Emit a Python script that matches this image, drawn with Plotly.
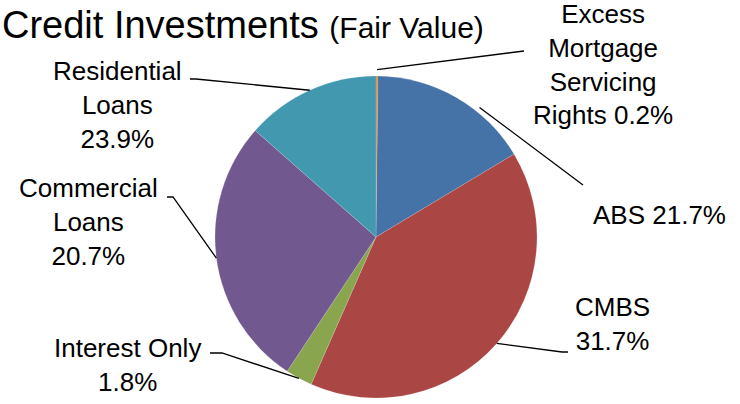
import math
import plotly.graph_objects as go

# ---- data ----
categories = ["Excess Mortgage Servicing Rights", "ABS", "CMBS", "Interest Only",
              "Commercial Loans", "Residential Loans"]
values = [0.2, 16.2, 40.2, 2.7, 27.2, 13.5]          # slice sizes as drawn
label_names = ["Excess<br>Mortgage<br>Servicing<br>Rights", "ABS", "CMBS",
               "Interest Only", "Commercial<br>Loans", "Residential<br>Loans"]
label_seps = [" ", " ", "<br>", "<br>", "<br>", "<br>"]
label_pcts = [0.2, 21.7, 31.7, 1.8, 20.7, 23.9]        # percentages printed in labels
colors = ["#E0832F", "#4572A7", "#AA4643", "#89A54E", "#71588F", "#4198AF"]

title_main = "Credit Investments"
title_sub = "(Fair Value)"

# ---- layout geometry (pixels) ----
W, H = 740, 404
CX, CY, R = 376, 237, 161
FONT = "Liberation Sans, Arial, sans-serif"

# label centre x and top y (px)
label_pos = [(603, -3), (659, 198), (612, 290), (127, 331), (88, 171), (117, 54)]
# leader: (fraction along slice, radius factor, outer points in px)
leaders = [
    (0.5, 1.04, [(524, 51)]),
    (0.65, 1.03, [(583, 185)]),
    (0.5, 1.0, [(562, 352), (568, 352)]),
    (0.5, 1.0, [(222, 353), (210, 353)]),
    (0.5, 1.0, [(173, 197), (167, 197)]),
    (0.5, 1.0, [(196, 79), (190, 79)]),
]


def px(x):
    return x / W


def py(y):
    return 1 - y / H


fig = go.Figure(go.Pie(
    labels=categories, values=values, sort=False, direction="clockwise", rotation=0,
    marker=dict(colors=colors, line=dict(color="rgba(255,255,255,0.5)", width=0.3)),
    textinfo="none", hoverinfo="label+percent", showlegend=False,
    domain=dict(x=[px(CX - R), px(CX + R)], y=[py(CY + R), py(CY - R)]),
))

total = sum(values)
cum = 0.0
shapes = []
annotations = []
for i, v in enumerate(values):
    frac, k, outer = leaders[i]
    theta = math.radians((cum + frac * v) / total * 360.0)
    ix = CX + R * k * math.sin(theta)
    iy = CY - R * k * math.cos(theta)
    pts = [(ix, iy)] + outer
    path = "M " + " L ".join(f"{px(a):.5f},{py(b):.5f}" for a, b in pts)
    shapes.append(dict(type="path", path=path, xref="paper", yref="paper",
                       line=dict(color="black", width=1.3)))
    cum += v
    lx, ly = label_pos[i]
    text = f"{label_names[i]}{label_seps[i]}{label_pcts[i]}%"
    annotations.append(dict(text=text, x=px(lx), y=py(ly), xref="paper", yref="paper",
                            xanchor="center", yanchor="top", showarrow=False, align="center",
                            font=dict(family=FONT, size=26, color="black")))

annotations.append(dict(
    text=f"{title_main} <span style='font-size:30px'>{title_sub}</span>",
    x=0, y=py(2), xref="paper", yref="paper", xanchor="left", yanchor="top",
    showarrow=False, font=dict(family=FONT, size=38, color="black")))

fig.update_layout(
    width=W, height=H, margin=dict(l=0, r=0, t=0, b=0),
    paper_bgcolor="white", plot_bgcolor="white",
    shapes=shapes, annotations=annotations,
)

fig.write_html("out.html", config={"displayModeBar": False},
               post_script="document.body.style.margin='0';document.body.style.padding='0';")
